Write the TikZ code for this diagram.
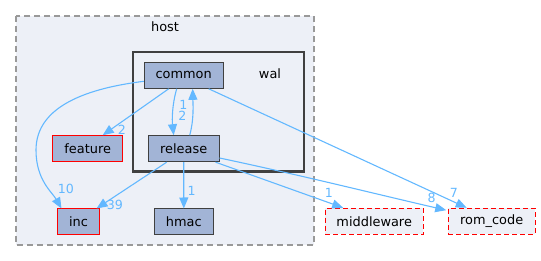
\documentclass[tikz,border=0pt]{standalone}
\usepackage{fontspec}
\setmainfont{DejaVu Sans}
\usetikzlibrary{arrows.meta}
\definecolor{clfill}{HTML}{EDF0F7}
\definecolor{ndfill}{HTML}{A2B4D6}
\definecolor{ndline}{HTML}{404040}
\definecolor{edge}{HTML}{63B8FF}
\definecolor{hostline}{HTML}{999999}
\tikzset{
  dir/.style={draw=ndline, fill=ndfill, line width=1pt, minimum height=26pt, inner sep=0pt, font=\fontsize{12.9}{14}\selectfont},
  dirred/.style={dir, draw=red},
  ext/.style={draw=red, fill=clfill, line width=1pt, dash pattern=on 5pt off 3pt, minimum height=26pt, inner sep=0pt, font=\fontsize{12.9}{14}\selectfont},
  dep/.style={draw=edge, line width=1.1pt, -{Triangle[length=11pt,width=9pt]}},
  lbl/.style={text=edge, inner sep=0pt, font=\fontsize{12.6}{13}\selectfont},
  ttl/.style={inner sep=0pt, font=\fontsize{12.9}{14}\selectfont}
}
\begin{document}
\begin{tikzpicture}[x=1pt,y=-1pt]
\useasboundingbox (0,0) rectangle (541,261);
% clusters
\draw[hostline, fill=clfill, line width=1.3pt, dash pattern=on 6pt off 4pt] (16,16) rectangle (314,245);
\node[ttl] (hostlbl) at (165,27) {host};
\draw[ndline, fill=clfill, line width=2.4pt] (133,52) rectangle (304,171.7);
\node[ttl] (wallbl) at (270,74) {wal};
% nodes
\node[dir, minimum width=78.7pt] (common) at (183.7,75.3) {common};
\node[dir, minimum width=70.7pt] (release) at (183.7,148.7) {release};
\node[dirred, minimum width=70pt] (feature) at (87.7,148.7) {feature};
\node[dirred, minimum width=41.6pt] (inc) at (78.5,222) {inc};
\node[dir, minimum width=59pt] (hmac) at (183.8,222) {hmac};
\node[ext, minimum width=98.3pt] (middleware) at (374.2,221.3) {middleware};
\node[ext, minimum width=86.7pt] (romcode) at (491.7,221.3) {rom\_code};
% edges
\draw[dep] ([yshift=-6pt]common.west) .. controls (90,88) and (36,105) .. (36,150) .. controls (36,180) and (52,192) .. ([xshift=-17pt]inc.north);
\draw[dep] ([xshift=-15pt]common.south) -- ([xshift=15pt]feature.north);
\draw[dep] ([xshift=-7pt]common.south) .. controls (172,105) and (172,120) .. ([xshift=-10pt]release.north);
\draw[dep] ([xshift=6pt]release.north) .. controls (194,120) and (193,105) .. ([xshift=9pt]common.south);
\draw[dep] ([xshift=-17pt]release.south) -- ([xshift=18pt]inc.north);
\draw[dep] (release.south) -- (hmac.north);
\draw[dep] ([xshift=-4pt]release.south east) -- ([xshift=-31pt]middleware.north);
\draw[dep] ([yshift=-9.3pt]release.east) .. controls (300,175) and (380,195) .. ([xshift=-1.6pt,yshift=-2.4pt]romcode.north west);
\draw[dep] ([xshift=25pt]common.south) -- ([xshift=-25pt]romcode.north);
% labels
\node[lbl] (l1) at (66,189) {10};
\node[lbl] (l2) at (122,130) {2};
\node[lbl] (l3) at (183.3,105) {1};
\node[lbl] (l4) at (182.3,116) {2};
\node[lbl] (l5) at (115,205) {39};
\node[lbl] (l6) at (191.7,190.5) {1};
\node[lbl] (l7) at (329,193) {1};
\node[lbl] (l8) at (431.7,198) {8};
\node[lbl] (l9) at (454,192.7) {7};
\end{tikzpicture}
\end{document}
